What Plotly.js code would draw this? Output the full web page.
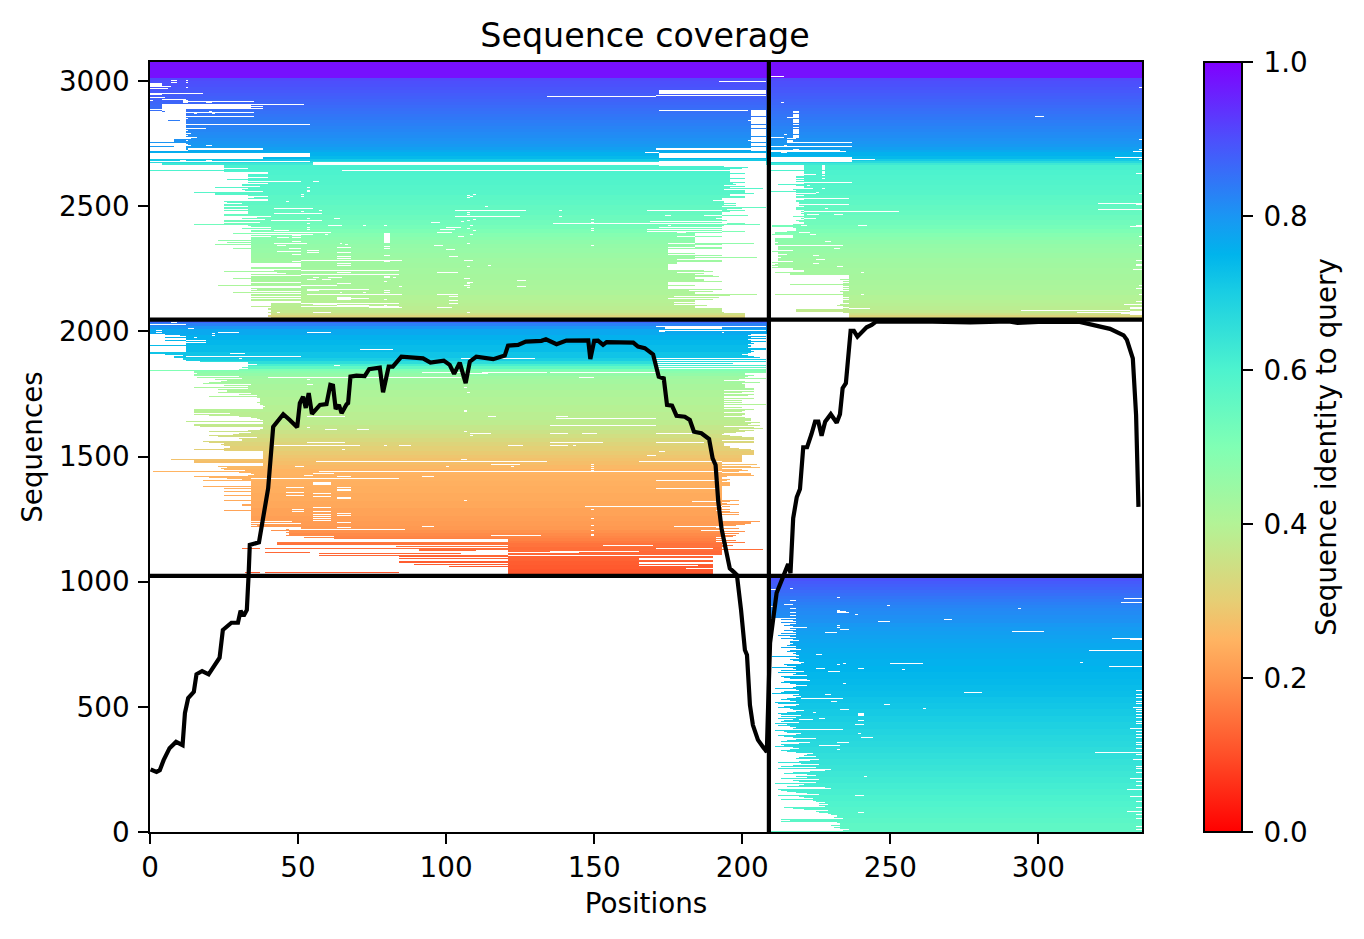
<!DOCTYPE html>
<html>
<head>
<meta charset="utf-8">
<script src="https://cdn.plot.ly/plotly-3.0.1.min.js"></script>
<style>html,body{margin:0;padding:0;background:#fff}#chart{width:1364px;height:939px}</style>
</head>
<body>
<div id="chart"></div>
<script>
const chartTitle = "Sequence coverage";
const xLabel = "Positions";
const yLabel = "Sequences";
const cbLabel = "Sequence identity to query";
const xTicks = [0, 50, 100, 150, 200, 250, 300];
const yTicks = [0, 500, 1000, 1500, 2000, 2500, 3000];
const cbTicks = [0, 0.2, 0.4, 0.6, 0.8, 1];
const totalPositions = 335;
const totalSequences = 3076;
const sequencesPerRow = 4;
const chainBreak = 209;
const blockBreaks = [1023, 2047];

const rainbowR = [[0,"rgb(255,0,0)"],[0.1,"rgb(255,79,40)"],[0.2,"rgb(255,150,79)"],[0.25,"rgb(255,180,98)"],[0.3,"rgb(230,206,116)"],[0.4,"rgb(179,243,150)"],[0.5,"rgb(128,255,180)"],[0.6,"rgb(77,243,206)"],[0.7,"rgb(26,206,227)"],[0.75,"rgb(0,180,236)"],[0.8,"rgb(26,150,243)"],[0.9,"rgb(77,79,252)"],[1,"rgb(128,0,255)"]];

// identity steps: [first row of step (counted from the bottom), identity]
const identityTop = [[769,.98],[752,.905],[749,.9],[746,.897],[743,.892],[740,.887],[737,.882],[734,.877],[731,.872],[728,.867],[725,.862],[722,.857],[719,.852],[716,.847],[713,.842],[710,.837],[707,.832],[704,.827],[701,.822],[698,.817],[695,.812],[692,.807],[689,.802],[686,.795],[683,.785],[680,.77],[678,.755],[674,.74],[671,.71],[669,.67],[667,.63],[665,.605],[660,.6],[655,.595],[650,.59],[645,.585],[640,.58],[635,.57],[630,.565],[625,.555],[620,.55],[615,.54],[610,.53],[605,.52],[601,.505],[597,.49],[593,.48],[590,.47],[586,.46],[582,.455],[577,.447],[572,.44],[567,.435],[562,.43],[556,.425],[550,.42],[545,.415],[540,.41],[535,.4],[530,.395],[527,.39],[524,.385],[520,.37],[517,.35],[515,.32]];
const identityMid = [[512,.9],[509,.87],[507,.83],[504,.8],[501,.77],[495,.755],[490,.745],[485,.735],[478,.72],[472,.7],[469,.66],[466,.61],[464,.56],[461,.5],[459,.48],[457,.46],[454,.44],[451,.43],[446,.42],[440,.41],[433,.402],[425,.395],[418,.387],[410,.38],[405,.367],[400,.355],[396,.342],[392,.33],[388,.317],[384,.305],[380,.295],[376,.285],[373,.277],[370,.27],[366,.26],[362,.25],[356,.247],[350,.244],[345,.24],[338,.235],[330,.23],[323,.222],[315,.215],[310,.21],[305,.205],[301,.195],[298,.185],[295,.177],[293,.17],[290,.16],[288,.15],[284,.142],[280,.135],[275,.127],[270,.12],[266,.115],[262,.11]];
const identityBot = [[256,.905],[253,.895],[250,.885],[247,.878],[244,.87],[241,.862],[238,.855],[235,.847],[232,.84],[229,.832],[226,.825],[223,.82],[220,.815],[216,.81],[212,.805],[208,.797],[204,.79],[200,.785],[196,.78],[192,.775],[188,.77],[183,.765],[178,.76],[172,.755],[165,.75],[159,.745],[152,.74],[146,.735],[140,.73],[134,.722],[128,.715],[122,.707],[115,.7],[109,.692],[102,.685],[96,.677],[90,.67],[84,.662],[78,.655],[72,.647],[66,.64],[60,.632],[54,.625],[48,.617],[42,.61],[36,.602],[30,.595],[24,.587],[18,.58],[13,.572],[8,.565]];

// first/last aligned residue per row, listed downward from the given row
const topAStartRow = 665;
const topAStart = [25,25,25,33,25,0,25,40,40,33,33,33,40,33,26,33,41,33,40,31,31,37,22,33,31,32,38,15,22,22,33,40,35,33,40,40,25,26,31,25,25,33,25,25,33,25,33,33,33,25,25,41,36,31,39,25,25,37,25,15,33,34,41,31,41,34,34,34,28,34,34,41,34,34,34,23,34,26,34,22,34,34,34,28,34,34,34,34,34,34,34,34,34,34,34,34,34,34,51,51,51,51,34,34,51,42,25,43,46,34,51,34,34,28,34,34,34,51,34,34,23,51,51,34,36,34,51,28,51,34,34,51,34,51,34,34,51,51,41,41,41,34,41,40,40,41,41,40,41,41,40,40,41,41];
const topAEndRow = 665;
const topAEnd = [201,194,202,200,196,196,196,196,201,196,196,196,196,201,196,196,196,201,197,198,194,201,196,207,194,201,201,201,204,196,196,201,201,193,193,190,194,194,198,194,198,193,208,200,195,201,196,193,193,193,202,193,193,191,193,195,193,193,201,206,194,193,193,193,193,193,201,193,184,184,184,193,184,184,184,184,184,184,204,193,184,184,193,193,175,175,175,175,184,175,193,184,205,184,178,193,193,178,178,175,175,175,175,175,175,187,190,178,187,184,190,192,184,184,187,187,193,175,175,175,184,175,175,175,193,182,190,184,184,205,196,177,192,175,190,184,184,177,184,177,188,184,184,193,193,193,193,194,201,201,201,201,201,201];
const topBStartRow = 665;
const topBStart = [221,221,221,221,221,209,221,221,221,221,221,218,218,221,218,221,218,221,221,212,218,221,221,221,217,218,209,218,225,218,221,218,218,221,221,218,218,219,219,221,219,221,218,218,218,221,220,221,220,221,221,217,221,220,221,218,219,221,221,217,210,210,217,218,218,218,215,211,211,210,217,217,217,211,211,211,211,212,211,211,212,212,212,212,212,217,210,212,212,215,212,212,212,212,212,212,217,210,212,211,210,212,210,217,217,221,221,211,216,216,236,236,236,236,233,236,234,236,234,216,234,236,234,236,234,236,233,234,234,211,234,234,236,234,236,234,234,234,236,233,232,234,236,234,218,218,218,234,236,236,236,236,236,236];
const midStartRow = 496;
const midStart = [5,10,12,5,12,12,5,12,19,12,12,0,12,12,12,12,12,12,0,0,5,11,8,8,11,11,12,17,33,33,36,33,33,31,33,30,0,15,15,16,15,15,30,16,31,22,26,24,20,18,34,25,33,15,33,23,26,26,23,34,30,36,20,36,37,37,37,37,36,37,37,38,39,38,38,15,15,15,15,27,15,20,30,34,36,37,38,12,38,38,15,15,17,38,38,37,33,20,34,30,28,20,23,36,30,31,31,18,20,25,24,25,27,25,15,25,38,38,38,38,38,38,38,38,7,15,15,15,38,38,38,23,26,24,25,32,1,30,34,35,33,15,20,26,31,18,34,34,34,34,34,18,34,25,34,34,25,34,34,34,25,34,34,34,34,25,34,34,34,31,31,34,34,34,34,25,34,34,34,34,34,34,34,34,34,34,37,34,37,34,36,34,51,51,46,41,47,46,47,47,46,51,52,52,121,121,121,121,121,121,121,121,121,121,121,121,121,121,121,121,121,121,121,121,121,121,121,121,121,121,121,121,121,121,121,121,121,121,121,121,121,121,121,121,121,121];
const midEndRow = 496;
const midEnd = [203,202,208,203,208,202,203,208,203,204,202,203,203,202,208,208,203,204,203,202,200,202,204,206,171,208,171,208,171,197,171,208,171,208,171,208,208,208,208,201,201,204,202,201,208,199,194,201,206,200,201,201,201,201,204,204,194,204,200,194,204,202,194,194,204,194,200,194,200,194,208,194,194,200,194,204,201,200,194,201,201,200,194,201,203,203,203,201,206,203,202,206,194,204,207,199,204,201,198,194,193,196,200,204,204,204,193,204,204,194,194,194,196,199,203,204,204,204,204,204,200,200,200,200,200,200,200,193,193,205,193,203,206,193,200,202,199,193,203,203,204,195,193,193,196,195,193,196,196,196,196,193,193,193,193,193,193,193,193,193,193,193,193,193,193,199,196,193,195,199,193,196,193,193,196,191,196,199,193,199,193,193,193,193,193,193,206,203,203,201,198,193,191,199,193,186,201,193,199,193,198,197,191,194,191,198,191,201,195,193,197,195,193,193,207,193,193,193,193,193,190,190,190,190,190,190,190,190,190,190,190,190,190,190,190,190,190,190,190,190,190,190,190,190,190,190,190];
const botStartRow = 213;
const botStart = [218,213,217,218,213,218,216,214,217,222,216,218,214,217,218,213,218,212,216,218,213,217,219,216,216,217,216,215,218,213,218,220,216,215,218,217,218,219,210,218,219,216,217,219,221,220,214,215,218,210,217,218,213,221,212,218,217,222,213,214,216,222,223,214,213,216,218,222,218,217,211,218,219,214,213,210,219,217,220,218,215,213,216,218,211,212,219,218,214,212,216,217,221,218,215,212,213,220,213,218,212,217,214,213,219,211,215,212,216,218,217,220,211,214,215,220,218,212,214,217,225,218,215,213,223,219,213,214,211,217,219,216,213,215,218,224,222,221,225,219,218,226,223,219,212,220,226,217,213,225,212,230,228,223,217,214,222,225,218,222,213,226,217,219,225,211,221,219,215,228,230,212,213,215,218,222,226,212,219,221,224,213,224,225,228,226,229,226,228,214,217,221,229,225,226,229,230,232,232,231,234,213,216,213,232,233,233,230,233,231,233,236,234];
const botRightNotch = [[141,333],[137,333],[134,333],[130,333],[128,333],[124,332],[122,333],[120,333],[117,333],[114,333],[110,333],[108,333],[103,331],[100,333],[97,333],[94,333],[89,333],[87,333],[83,333],[77,333],[72,332],[65,333],[63,333],[59,333],[53,331],[50,333],[46,333],[42,330],[35,331],[30,333],[24,333],[20,330],[17,333],[13,333],[5,333],[2,333]];

// unaligned runs: [row, from, to] or [rowHigh, rowLow, from, to]
const topGaps = [[750,7,9],[748,7,9],[750,12,13],[748,12,13],[743,12,13],[747,744,0,4],[744,4,7],[742,0,6],[737,0,18],[736,0,4],[733,0,5],[731,4,12],[730,0,1],[730,728,11,13],[729,13,35],[728,19,21],[726,4,52],[725,722,4,34],[724,34,38],[722,34,38],[721,692,0,12],[719,20,21],[717,15,16],[717,21,22],[718,6,35],[716,8,12],[714,12,35],[712,12,13],[706,12,54],[702,12,19],[700,12,13],[697,12,14],[695,12,13],[693,12,16],[692,12,14],[691,688,0,8],[690,12,13],[687,680,0,12],[686,12,13],[685,12,14],[685,19,21],[682,681,13,38],[680,12,13],[681,679,0,12],[677,674,0,54],[673,672,0,38],[670,10,12],[670,19,21],[669,0,54],[667,665,0,4],[668,666,55,172],[660,65,196],
[749,192,208],[740,737,172,208],[735,171,208],[734,134,171],[720,172,202],[720,680,203,208],[710,202,203],[690,202,203],[682,681,171,203],[678,167,172],[677,673,172,208],[668,665,172,208],[669,172,208],
[649,41,51],[649,55,57],[643,53,54],[640,639,53,54],[636,51,52],[634,51,52],[629,46,47],[622,42,55],[620,57,58],[619,51,52],[617,42,58],[612,53,54],[612,62,64],[610,41,58],[607,53,54],[605,60,65],[605,72,73],[605,79,80],[603,53,54],[601,53,54],[600,42,47],[598,34,61],[597,588,79,81],[596,34,55],[596,59,60],[595,48,51],[593,43,47],[593,48,51],[589,48,51],[587,42,53],[587,64,65],[586,66,67],[585,43,46],[584,79,81],[583,63,68],[582,47,51],[582,79,81],[580,53,57],[579,43,51],[578,53,57],[578,63,68],[576,48,51],[575,79,81],[574,63,68],[572,63,68],[570,51,85],[569,48,51],[569,79,81],[567,63,68],[565,63,68],[560,51,84],[558,63,68],[556,51,84],[554,553,79,81],[553,55,57],[553,60,65],[551,53,56],[551,58,61],[553,82,83],[549,79,80],[547,63,68],[545,51,63],[544,84,85],[541,53,74],[540,53,57],[540,79,81],[538,64,65],[538,72,73],[538,79,81],[536,53,85],[533,63,68],[532,63,74],[531,63,68],[531,79,80],[527,51,84],[526,55,63],[525,63,74],[525,79,80],[524,51,84],[523,74,85],[518,43,44],[518,55,61],
[620,103,127],[614,103,125],[608,95,98],[603,100,105],[601,98,103],[598,97,102],[594,104,106],[585,96,99],[581,100,103],[574,101,104],[558,97,104],[536,97,104],[534,101,104],[530,101,104],[527,101,104],[523,97,102],
[636,109,110],[635,107,108],[634,108,109],[633,107,108],[624,113,114],[620,138,139],[620,168,193],[618,107,108],[616,107,108],[615,174,176],[615,187,193],[614,138,139],[611,109,110],[611,149,150],[610,107,108],[609,105,106],[609,169,195],[608,149,150],[607,136,195],[605,108,109],[605,175,176],[603,172,194],[602,107,108],[602,149,150],[601,168,193],[600,109,110],[600,149,150],[599,168,193],[598,178,181],[596,108,109],[594,178,184],[587,107,108],[587,175,184],[585,149,150],[583,175,184],[570,106,109],[565,114,115],[564,107,108],[552,106,108],[550,124,127],[548,107,109],[547,107,108],[545,106,108],[544,124,127],[543,107,108],[518,107,108],
[754,209,214],[728,213,214],[719,718,217,219],[716,713,217,219],[713,215,217],[711,708,217,219],[706,217,219],[703,217,219],[701,697,217,219],[696,214,215],[695,693,217,219],[693,209,214],[692,215,218],[690,688,215,217],[688,217,237],[685,214,215],[684,209,237],[681,217,219],[680,209,233],[679,209,235],[678,213,215],[673,672,209,237],[671,237,245],[671,669,209,237],
[665,661,227,228],[659,657,227,228],[656,221,225],[655,227,228],[652,227,228],[648,221,237],[645,222,223],[642,221,224],[642,227,228],[638,225,226],[632,221,236],[626,221,236],[622,228,229],[619,221,253],[616,222,226],[616,231,234],[612,221,225],[605,220,222],[605,239,242],[598,219,223],[596,223,225],[589,228,230],[585,212,234],[582,231,233],[575,224,226],[573,212,213],[571,225,228],[567,224,226],[564,232,234],[558,240,241],[536,240,241],[522,236,243],
[743,334,335],[714,299,302],[691,334,335],[681,334,335],[679,332,335],[673,326,335],[671,334,335],[657,333,335],[637,334,335],[627,320,335],[626,333,335],[621,320,335],[604,331,335],[605,333,335],[594,334,335],[585,334,335],[570,333,335],[566,565,333,335],[561,332,335],[545,334,335],[542,333,335],[536,334,335],[529,333,335],[526,329,335],[523,331,335],[522,331,335],[520,294,331],[518,313,331],[519,516,331,335],[517,328,331]];
const topFills = [[720,0,4],[719,4,5],[710,6,10],[714,203,208],[706,203,208],[702,203,208],[694,203,208],[688,203,208],[684,203,208],[684,0,8],[688,0,8],[679,0,12],[691,8,12]];
const midGaps = [[510,2,4],[510,6,7],[508,7,9],[506,0,12],[502,13,15],[500,2,4],[498,2,4],[498,23,30],[498,53,61],[497,21,22],[495,21,22],[493,15,16],[504,171,208],[503,502,174,193],[500,172,208],[499,172,174],[498,193,194],[481,71,82],[490,12,19],[477,27,32],[474,12,51],[472,105,130],[472,30,31],[465,62,64],[458,112,134],[458,135,172],[457,105,114],[458,92,105],[453,40,105],[453,145,150],[451,53,54],[446,53,55],[443,106,107],[438,107,108],[420,419,106,107],[414,53,66],[414,114,117],[414,137,141],[412,137,171],[405,135,171],[403,53,54],[401,59,63],[401,70,74],[399,106,107],[397,108,115],[397,135,141],[397,146,151],[397,171,186],[395,108,109],[388,53,66],[388,135,153],[388,171,187],[385,42,71],[385,79,80],[385,84,88],[385,121,126],[385,135,141],[385,143,144],[382,65,66],[380,172,174],[376,168,171],[372,105,107],[370,56,105],[370,105,134],[370,165,193],[367,115,125],[367,149,150],[365,49,52],[365,100,101],[365,122,123],[365,149,150],[363,149,150],[361,149,150],[360,57,171],[360,171,193],[358,55,62],[356,52,55],[355,63,68],[355,92,96],[353,34,84],[351,171,192],[349,347,55,61],[344,46,52],[344,63,68],[343,171,192],[342,341,63,68],[339,46,52],[338,55,61],[336,46,52],[335,55,61],[334,333,63,68],[331,106,107],[330,183,191],[325,147,193],[324,55,61],[322,48,52],[322,149,150],[320,48,52],[320,55,61],[318,63,68],[317,55,61],[316,63,68],[315,55,61],[313,55,61],[313,149,150],[311,55,61],[310,34,48],[309,63,68],[308,37,51],[306,149,150],[305,177,192],[305,92,96],[304,63,68],[302,47,86],[301,149,150],[297,149,150],[296,115,132],[296,149,150],[295,42,62],[293,48,62],[286,153,170],[283,171,190],[280,135,165],[279,121,145]];
const midFills = [[288,43,121],[289,43,121],[287,43,121],[285,83,121],[283,31,37],[283,39,121],[282,91,121],[281,91,110],[279,39,54],[278,57,105],[276,57,121],[275,84,121],[273,84,121],[270,84,121],[269,84,121],[267,89,121],[265,101,121],[259,32,37],[259,39,84]];
const midGaps2 = [[276,121,193],[273,272,165,190],[269,268,165,190],[266,165,185],[263,181,190]];
const botGaps = [[242,209,212],[243,216,217],[234,232,233],[233,329,335],[229,328,335],[231,216,218],[227,214,217],[226,249,250],[225,209,211],[223,216,218],[223,293,294],[221,232,233],[220,232,235],[219,232,236],[219,216,218],[217,238,239],[216,216,218],[212,268,271],[210,246,250],[206,232,233],[204,232,233],[202,233,236],[200,291,302],[199,228,232],[193,325,335],[192,331,335],[181,317,335],[177,225,227],[169,314,315],[168,250,261],[168,234,235],[167,232,233],[165,324,335],[163,225,228],[163,239,241],[162,254,255],[160,229,233],[148,234,235],[139,275,281],[137,228,230],[133,220,234],[130,230,232],[127,248,250],[123,261,262],[122,233,236],[119,224,225],[118,116,239,241],[113,226,228],[112,219,224],[111,239,241],[107,238,241],[102,217,234],[98,239,240],[94,240,244],[89,232,236],[86,226,233],[82,232,233],[79,319,335],[55,241,242],[36,238,241],[19,239,241]];

// coverage line
const coverageX = [0.2,2.2,3.3,4.6,6.6,8.8,11,11.8,12.9,14.8,15.7,17.6,19.8,23.5,24.6,26,27.5,29.7,30.6,31.6,32.7,33.3,33.7,36.8,39.9,41.6,45,47.2,49.7,50.6,51.7,52.6,53.6,54.7,57.4,59.6,60.9,61.8,62.7,63.8,64.7,66.4,66.9,67.7,69.7,72.5,74,77.6,78.7,80.6,82,84.9,92.2,94.7,96.2,99.2,101.2,102.7,104.6,106.6,108,110.2,115.9,119.8,120.9,124.3,126.9,132.2,133.7,137.3,140.6,148,148.7,150,151.3,153,154.2,163.2,164.8,167.1,169.9,171.8,173.5,174.6,176.3,177.8,180.6,182.3,183.7,186.2,188.8,190,191,191.9,193,194.1,195.8,197.2,198.2,199.6,200.9,201.6,202.6,203.6,205.3,207,208.3,208.6,209.4,211.6,214,215.5,216.3,217.2,218.4,219.5,220.6,221.9,223.4,224.6,225.7,226.8,228,229.9,231.9,233,233.9,235,236.6,237.7,238.9,242,243.7,245.2,260,277,290,293,300,314,320.9,324.2,328.8,329.9,331.9,333,333.8];
const coverageY = [250,240,247,287,335,360,347,475,535,560,630,643,630,696,807,820,836,836,884,863,887,1027,1147,1157,1373,1619,1669,1646,1617,1713,1739,1694,1753,1670,1706,1709,1786,1783,1690,1706,1673,1709,1713,1819,1823,1821,1849,1855,1757,1859,1859,1899,1892,1875,1879,1883,1866,1830,1875,1793,1879,1899,1889,1903,1943,1946,1959,1962,1968,1949,1963,1964,1889,1962,1963,1946,1957,1955,1939,1933,1908,1819,1812,1706,1703,1663,1659,1646,1599,1593,1570,1493,1466,1320,1213,1147,1053,1038,1027,887,727,707,507,427,368,340,320,447,755,955,1033,1070,1034,1253,1337,1370,1537,1537,1590,1639,1639,1583,1639,1669,1635,1669,1773,1793,2002,2002,1979,2016,2026,2039,2040,2036,2040,2034,2038,2038,2019,2010,1984,1966,1892,1666,1299];

function stepValue(steps, row){
  let v = steps[0][1];
  for (const s of steps){ if (row <= s[0]) v = s[1]; else break; }
  return v;
}
const nRows = Math.ceil(totalSequences / sequencesPerRow);
const z = [];
for (let r = 0; r < nRows; r++){
  const row = new Array(totalPositions).fill(null);
  let steps = null, a = 0, b = totalPositions;
  if (r <= 256){ steps = identityBot; a = chainBreak; }
  else if (r <= 512){ steps = identityMid; b = chainBreak; }
  else { steps = identityTop; }
  const v = stepValue(steps, r);
  for (let c = a; c < b; c++) row[c] = v;
  z.push(row);
}
const idAt = r => r <= 256 ? stepValue(identityBot, r) : r <= 512 ? stepValue(identityMid, r) : stepValue(identityTop, r);
function clear(r, a, b){ if (r < 0 || r >= nRows) return; for (let c = Math.max(0,a); c < Math.min(totalPositions,b); c++) z[r][c] = null; }
function paint(r, a, b){ if (r < 0 || r >= nRows) return; for (let c = a; c < b; c++) z[r][c] = idAt(r); }
function applyRuns(list, fn){
  for (const g of list){
    if (g.length === 3) fn(g[0], g[1], g[2]);
    else for (let r = g[1]; r <= g[0]; r++) fn(r, g[2], g[3]);
  }
}
topAStart.forEach((v,i)=>{ const r = topAStartRow - i; if (r > 512) clear(r, 0, v); });
topAEnd.forEach((v,i)=>{ const r = topAEndRow - i; if (r > 512) clear(r, v, chainBreak); });
topBStart.forEach((v,i)=>{ const r = topBStartRow - i; if (r > 512) clear(r, chainBreak, v); });
midStart.forEach((v,i)=>{ const r = midStartRow - i; if (r > 256) clear(r, 0, v); });
midEnd.forEach((v,i)=>{ const r = midEndRow - i; if (r > 256) clear(r, v, chainBreak); });
botStart.forEach((v,i)=>{ const r = botStartRow - i; if (r >= 0) clear(r, chainBreak, v); });
botRightNotch.forEach(n => clear(n[0], n[1], totalPositions));
applyRuns(topGaps, clear);
applyRuns(topFills, paint);
applyRuns(midGaps, clear);
applyRuns(midFills, paint);
applyRuns(midGaps2, clear);
applyRuns(botGaps, clear);

const blackLine = {color:"#000", width:4.2};
const traces = [
  {type:"heatmap", z:z, x0:0.5, dx:1, y0:sequencesPerRow/2, dy:sequencesPerRow, zmin:0, zmax:1, zsmooth:false,
   colorscale:rainbowR, hoverinfo:"skip",
   colorbar:{x:1.0625, xanchor:"left", y:0.5, yanchor:"middle", len:1, lenmode:"fraction", thickness:38, thicknessmode:"pixels", xpad:0, ypad:0,
     outlinewidth:2, outlinecolor:"#000", tickmode:"array", tickvals:cbTicks, ticktext:cbTicks.map(v=>"\u2009"+v.toFixed(1)), ticks:"outside", ticklen:10, tickwidth:2, tickcolor:"#000",
     tickfont:{family:"DejaVu Sans", size:27.8, color:"#000"},
     title:{text:cbLabel, side:"right", font:{family:"DejaVu Sans", size:27.8, color:"#000"}}}},
  {type:"scatter", mode:"lines", x:coverageX, y:coverageY, line:blackLine, hoverinfo:"skip", showlegend:false},
  {type:"scatter", mode:"lines", x:[chainBreak,chainBreak], y:[0,totalSequences], line:blackLine, hoverinfo:"skip", showlegend:false},
  {type:"scatter", mode:"lines", x:[0,totalPositions], y:[blockBreaks[0],blockBreaks[0]], line:blackLine, hoverinfo:"skip", showlegend:false},
  {type:"scatter", mode:"lines", x:[0,totalPositions], y:[blockBreaks[1],blockBreaks[1]], line:blackLine, hoverinfo:"skip", showlegend:false}
];
const axisCommon = {showgrid:false, zeroline:false, showline:true, mirror:true, linecolor:"#000", linewidth:2, ticks:"outside", ticklen:10, tickwidth:2, tickcolor:"#000",
  tickfont:{family:"DejaVu Sans", size:27.8, color:"#000"}, tickmode:"array"};
const layout = {
  width:1364, height:939, autosize:false, showlegend:false,
  paper_bgcolor:"#fff", plot_bgcolor:"#fff",
  margin:{l:150, r:222, t:62, b:107, pad:0},
  font:{family:"DejaVu Sans", color:"#000"},
  title:{text:chartTitle, x:0.4729, xanchor:"center", xref:"container", y:0.9625, yanchor:"middle", yref:"container", font:{family:"DejaVu Sans", size:33.3, color:"#000"}},
  xaxis:Object.assign({}, axisCommon, {range:[0,totalPositions], tickvals:xTicks, ticktext:xTicks.map(String), title:{text:xLabel, standoff:10, font:{family:"DejaVu Sans", size:27.8, color:"#000"}}}),
  yaxis:Object.assign({}, axisCommon, {range:[0,totalSequences], tickvals:yTicks, ticktext:yTicks.map(v=>v+"\u200a"), title:{text:yLabel, standoff:8, font:{family:"DejaVu Sans", size:27.8, color:"#000"}}})
};
Plotly.newPlot("chart", traces, layout, {displayModeBar:false, responsive:false});
</script>
</body>
</html>
